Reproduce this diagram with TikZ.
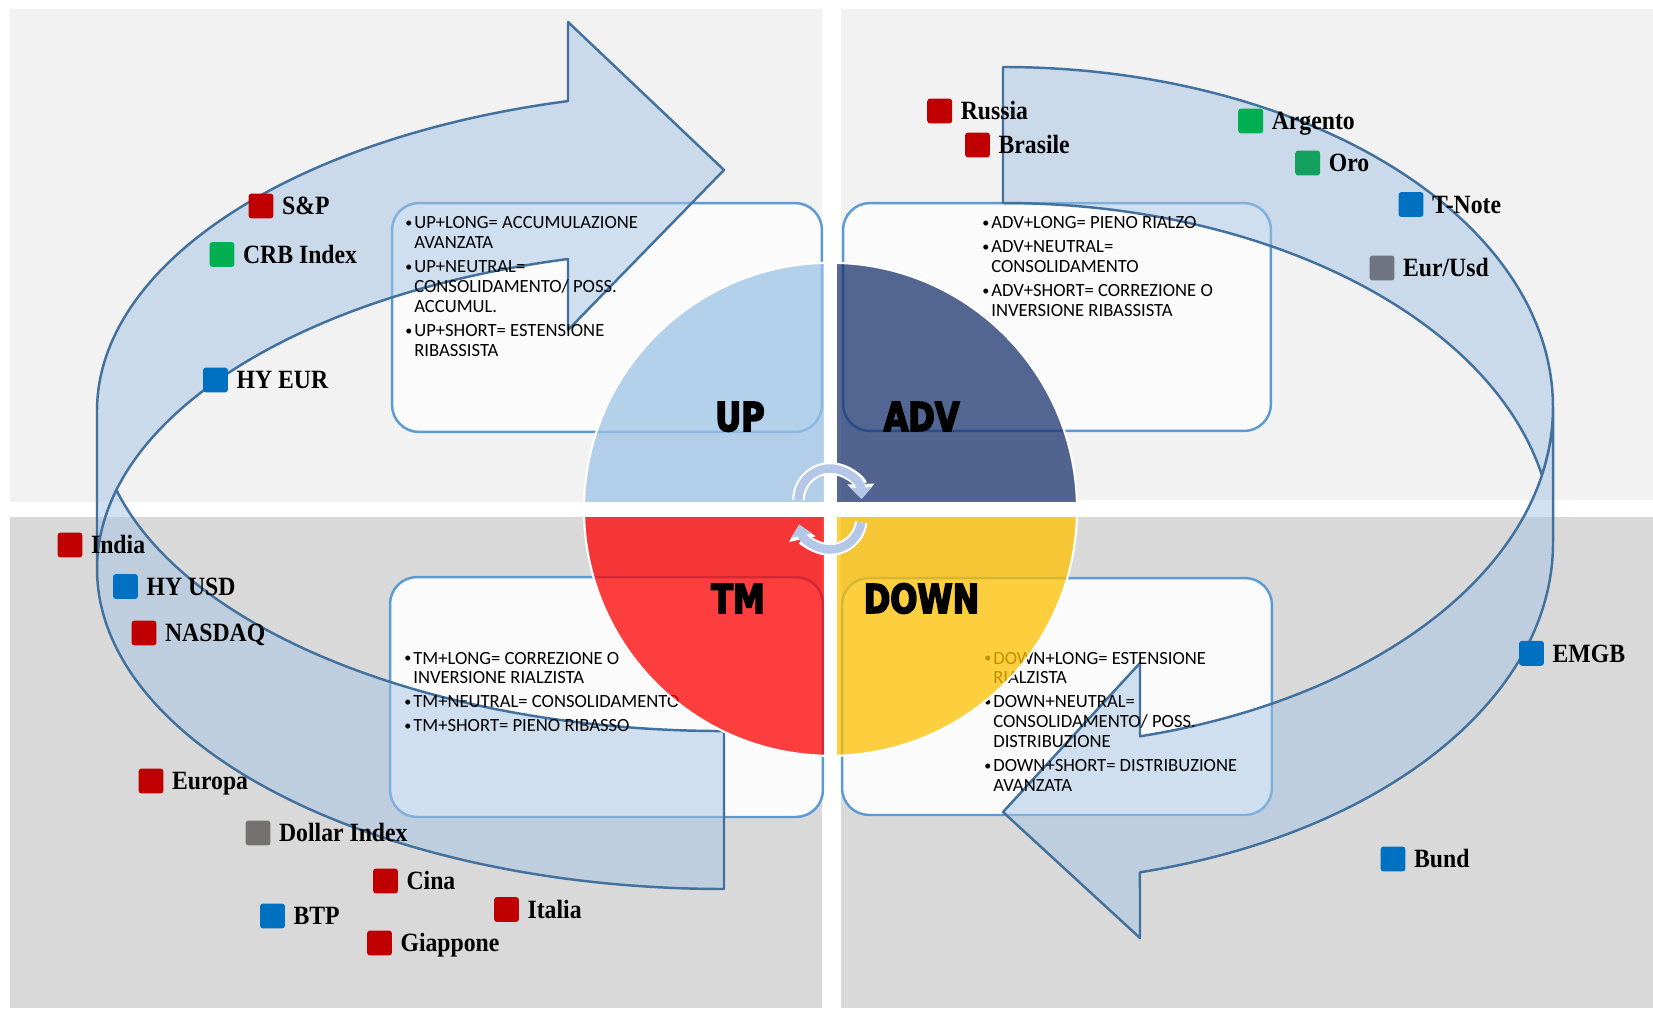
\documentclass[tikz,border=0pt]{standalone}
\usepackage{fontspec}
\setmainfont{Carlito}
\newfontfamily\tagfont[FakeStretch=0.9]{Liberation Serif}
\newfontfamily\quadfont[FakeStretch=0.8, BoldFeatures={FakeBold=4}]{DejaVu Sans}
\usetikzlibrary{arrows.meta, positioning}
\definecolor{cPanelTop}{RGB}{242,242,242}
\definecolor{cPanelBot}{RGB}{217,217,217}
\definecolor{cBoxLine}{RGB}{91,155,213}
\definecolor{cBoxFill}{RGB}{251,251,251}
\definecolor{cUp}{RGB}{157,195,230}
\definecolor{cAdv}{RGB}{28,52,110}
\definecolor{cTm}{RGB}{255,0,0}
\definecolor{cDown}{RGB}{255,192,0}
\definecolor{cBand}{RGB}{166,196,228}
\definecolor{cBandLine}{RGB}{65,113,156}
\definecolor{cSpin}{RGB}{180,199,231}
\definecolor{cRed}{RGB}{192,0,0}
\definecolor{cGreen}{RGB}{0,176,80}
\definecolor{cGreenDk}{RGB}{20,160,95}
\definecolor{cBlue}{RGB}{0,112,192}
\definecolor{cGrey}{RGB}{118,113,113}
\definecolor{cSlate}{RGB}{110,117,128}
\newcommand{\phbul}{\makebox[5.1pt][l]{\raisebox{0.7pt}{\fontsize{8}{8}\selectfont•}}}
\tikzset{
	phasebox/.style={rectangle, rounded corners=0.54cm, draw=cBoxLine, line width=1.4pt, fill=cBoxFill},
	phasetext/.style={anchor=base west, inner sep=0pt, font=\fontsize{10.6}{11.34}\selectfont},
	quadlbl/.style={anchor=base, inner sep=0pt, font=\quadfont\bfseries\fontsize{22.7}{24}\selectfont},
	quad/.style={fill=#1, fill opacity=0.75},
	band/.style={fill=cBand, fill opacity=0.5, draw=cBandLine, line width=1.4pt, line join=round},
	spinback/.style={white, line width=7.2pt, -{Triangle[width=15pt, length=8.5pt]}},
	spin/.style={cSpin, line width=4.8pt, -{Triangle[width=12pt, length=6.5pt]}},
	mk/.style={rectangle, rounded corners=1.7pt, minimum size=14.2pt, inner sep=0pt, fill=#1},
	tagtext/.style={anchor=west, inner sep=0pt, text height=9.93pt, text depth=0pt, font=\tagfont\bfseries\fontsize{15}{16}\selectfont},
}
\begin{document}
\begin{tikzpicture}[x=0.02cm, y=-0.02cm]
	\useasboundingbox (0,0) rectangle (1653,1010);
	% background panels
	\fill[cPanelTop] (9.5,9.3) rectangle (821.6,501.7);
	\fill[cPanelTop] (840.5,9.3) rectangle (1653,500);
	\fill[cPanelBot] (9.5,516.7) rectangle (821.6,1008);
	\fill[cPanelBot] (840.5,516.7) rectangle (1653,1008);
	% phase boxes
	\node[phasebox, minimum width=8.6cm, minimum height=4.58cm] (upbox) at (607,317.5) {};
	\node[phasebox, minimum width=8.56cm, minimum height=4.56cm] (advbox) at (1057,317) {};
	\node[phasebox, minimum width=8.66cm, minimum height=4.8cm] (tmbox) at (606.5,697) {};
	\node[phasebox, minimum width=8.6cm, minimum height=4.74cm] (downbox) at (1057,696.5) {};
	% big curved arrows
	\path[band] (97,411) arc[start angle=180, end angle=255.59, x radius=627, y radius=320]
		-- (568,22) -- (724,170) -- (568,330) -- (568,259)
		arc[start angle=255.59, end angle=180, x radius=627, y radius=320] -- cycle
		(724,889) arc[start angle=90, end angle=194.29, x radius=627, y radius=320]
		arc[start angle=165.71, end angle=90, x radius=627, y radius=320] -- cycle;
	\path[band] (1553,543) arc[start angle=0, end angle=75.58, x radius=550, y radius=340]
		-- (1140,938) -- (1003,812) -- (1140,663) -- (1140,736.3)
		arc[start angle=75.58, end angle=0, x radius=550, y radius=340] -- cycle
		(1003,67) arc[start angle=270, end angle=371.54, x radius=550, y radius=340]
		arc[start angle=348.46, end angle=270, x radius=550, y radius=340] -- cycle;
	% phase texts
	\node[phasetext] (uptext) at (405,229) {\begin{tabular}[t]{@{}l@{}l@{}}
		\phbul&UP+LONG= ACCUMULAZIONE\\&AVANZATA\\[2.27pt]
		\phbul&UP+NEUTRAL=\\&CONSOLIDAMENTO/ POSS.\\&ACCUMUL.\\[2.27pt]
		\phbul&UP+SHORT= ESTENSIONE\\&RIBASSISTA\end{tabular}};
	\node[phasetext] (advtext) at (982,229) {\begin{tabular}[t]{@{}l@{}l@{}}
		\phbul&ADV+LONG= PIENO RIALZO\\[2.27pt]
		\phbul&ADV+NEUTRAL=\\&CONSOLIDAMENTO\\[2.27pt]
		\phbul&ADV+SHORT= CORREZIONE O\\&INVERSIONE RIBASSISTA\end{tabular}};
	\node[phasetext] (tmtext) at (404,664) {\begin{tabular}[t]{@{}l@{}l@{}}
		\phbul&TM+LONG= CORREZIONE O\\&INVERSIONE RIALZISTA\\[2.27pt]
		\phbul&TM+NEUTRAL= CONSOLIDAMENTO\\[2.27pt]
		\phbul&TM+SHORT= PIENO RIBASSO\end{tabular}};
	\node[phasetext] (downtext) at (984,664) {\begin{tabular}[t]{@{}l@{}l@{}}
		\phbul&DOWN+LONG= ESTENSIONE\\&RIALZISTA\\[2.27pt]
		\phbul&DOWN+NEUTRAL=\\&CONSOLIDAMENTO/ POSS.\\&DISTRIBUZIONE\\[2.27pt]
		\phbul&DOWN+SHORT= DISTRIBUZIONE\\&AVANZATA\end{tabular}};
	% cycle wheel
	\begin{scope}
		\clip (830.5,509.3) circle[radius=246.5];
		\fill[quad=cUp] (824,502) rectangle (580,260);
		\fill[quad=cAdv] (837,502) rectangle (1080,260);
		\fill[quad=cTm] (824,516.7) rectangle (580,760);
		\fill[quad=cDown] (837,516.7) rectangle (1080,760);
	\end{scope}
	\draw[white, line width=1.2pt] (830.5,509.3) circle[radius=246.5];
	% small rotation arrows
	\draw[spinback] (830,500) ++(180:31.5) arc[start angle=180, end angle=358, radius=31.5];
	\draw[spin] (830,500) ++(180:31.5) arc[start angle=180, end angle=358, radius=31.5];
	\draw[spinback] (830,518) ++(8:31.5) arc[start angle=8, end angle=168, radius=31.5];
	\draw[spin] (830,518) ++(8:31.5) arc[start angle=8, end angle=168, radius=31.5];
	% phase names
	\node[quadlbl] (lup) at (740,431) {UP};
	\node[quadlbl] (ladv) at (921.6,431) {ADV};
	\node[quadlbl] (ltm) at (738,613) {TM};
	\node[quadlbl] (ldown) at (921.6,613) {DOWN};
	% markets
	\foreach \nm/\x/\y/\col/\txt in {sp/261/206/cRed/{S\&P}, crb/222/254.5/cGreen/{CRB Index},
		hyeur/215.5/380/cBlue/{HY EUR}, india/70/545/cRed/India, hyusd/125.5/586.5/cBlue/{HY USD},
		nasdaq/144/633/cRed/NASDAQ, europa/151/781/cRed/Europa, dollar/258/833/cGrey/{Dollar Index},
		cina/385.5/881/cRed/Cina, btp/272.5/916/cBlue/BTP, italia/506.5/909.5/cRed/Italia,
		giappone/379.5/943/cRed/Giappone, russia/939.7/111/cRed/Russia, brasile/977.5/145/cRed/Brasile,
		argento/1250.7/121/cGreen/Argento, oro/1307.7/163/cGreenDk/Oro, tnote/1411/204.5/cBlue/T-Note,
		eurusd/1382/268/cSlate/{Eur/Usd}, emgb/1531.5/653.3/cBlue/EMGB, bund/1393/859/cBlue/Bund} {
		\node[mk=\col] (sq\nm) at (\x,\y) {};
		\node[tagtext, right=4.5pt of sq\nm] (lb\nm) {\txt};
	}
\end{tikzpicture}
\end{document}
